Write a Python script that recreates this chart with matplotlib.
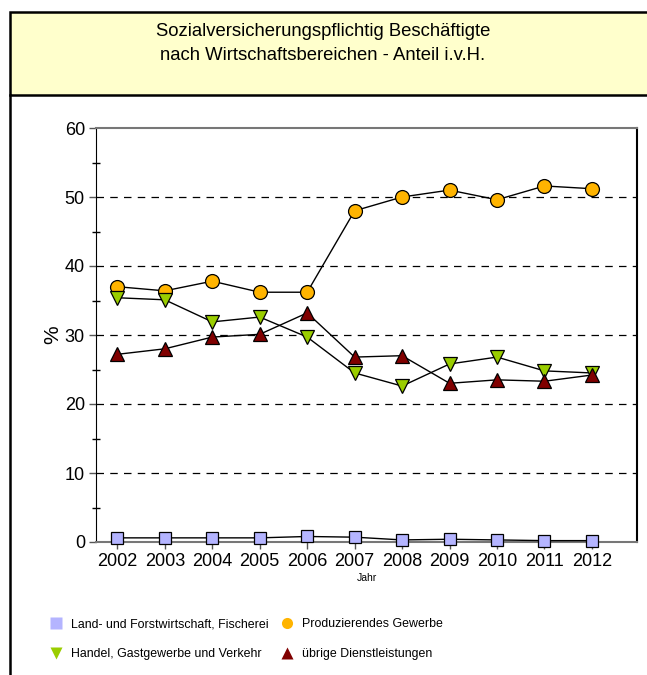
import matplotlib.pyplot as plt
from matplotlib.patches import Rectangle
from matplotlib.lines import Line2D
from matplotlib.ticker import MultipleLocator

plt.rcParams['font.family'] = ['Liberation Sans', 'DejaVu Sans']

jahre = [2002, 2003, 2004, 2005, 2006, 2007, 2008, 2009, 2010, 2011, 2012]
land = [0.6, 0.6, 0.6, 0.6, 0.8, 0.7, 0.3, 0.4, 0.3, 0.2, 0.2]
produzierend = [37.0, 36.4, 37.8, 36.2, 36.2, 48.0, 50.0, 51.0, 49.6, 51.6, 51.2]
handel = [35.4, 35.1, 31.9, 32.6, 29.7, 24.5, 22.6, 25.8, 26.8, 24.8, 24.5]
dienst = [27.2, 28.0, 29.7, 30.1, 33.2, 26.8, 27.0, 23.0, 23.5, 23.3, 24.2]

labels = ['Land- und Forstwirtschaft, Fischerei', 'Produzierendes Gewerbe',
          'Handel, Gastgewerbe und Verkehr', 'übrige Dienstleistungen']
farben = ['#B4B4FF', '#FFB400', '#9ACD00', '#800000']
marker = ['s', 'o', 'v', '^']

fig = plt.figure(figsize=(6.47, 6.75), dpi=100)

# title box
fig.patches.append(Rectangle((10 / 647, 1 - 95 / 675), 1.0, 83 / 675, transform=fig.transFigure,
                             facecolor='#FFFFCC', edgecolor='black', linewidth=1.8))
fig.lines.append(Line2D([10 / 647, 10 / 647], [0, 1 - 95 / 675], transform=fig.transFigure,
                        color='black', linewidth=1.8))
fig.text(323 / 647, 1 - 31 / 675, 'Sozialversicherungspflichtig Beschäftigte',
         ha='center', va='center', fontsize=13.3)
fig.text(323 / 647, 1 - 55 / 675, 'nach Wirtschaftsbereichen - Anteil i.v.H.',
         ha='center', va='center', fontsize=13.3)

ax = fig.add_axes([96 / 647, 1 - 542 / 675, (637 - 96) / 647, (542 - 128) / 675])
ax.set_xlim(2001.55, 2012.95)
ax.set_ylim(0, 60)

for v in [10, 20, 30, 40, 50]:
    ax.axhline(v, color='black', linestyle=(0, (6, 5)), linewidth=0.9, zorder=1)

reihen = [land, produzierend, handel, dienst]
groessen = [8.5, 10, 10, 10]
for werte, m, f, s in zip(reihen, marker, farben, groessen):
    ax.plot(jahre, werte, marker=m, markersize=s, markerfacecolor=f, color='black',
            linewidth=1.0, markeredgecolor='black', markeredgewidth=0.9, zorder=3, clip_on=False)

ax.set_xticks(jahre)
ax.set_xticklabels([str(j) for j in jahre])
ax.yaxis.set_major_locator(MultipleLocator(10))
ax.yaxis.set_minor_locator(MultipleLocator(5))
ax.tick_params(axis='both', labelsize=13, direction='out', length=5, width=1, color='#555555')
ax.tick_params(axis='y', which='minor', direction='inout', length=6, width=1)
ax.tick_params(axis='y', which='major', direction='out', length=5, pad=3)
ax.tick_params(axis='x', pad=3)

ax.spines['left'].set_color('black')
ax.spines['right'].set_color('black')
ax.spines['right'].set_linewidth(1.5)
ax.spines['top'].set_color('#777777')
ax.spines['top'].set_linewidth(1.5)
ax.spines['bottom'].set_color('#777777')
ax.spines['bottom'].set_linewidth(1.5)
ax.set_ylabel('%', fontsize=15)
ax.yaxis.set_label_coords(-0.063, 0.5)
ax.set_xlabel('Jahr', fontsize=7.5, labelpad=2)

handles = [Line2D([], [], linestyle='none', marker=m, markersize=8, markerfacecolor=f,
                  markeredgecolor='none') for m, f in zip(marker, farben)]
order = [0, 2, 1, 3]
fig.legend([handles[i] for i in order], [labels[i] for i in order], ncol=2,
           loc='upper left', bbox_to_anchor=(36 / 647, 1 - 607 / 675), frameon=False,
           fontsize=8.9, handletextpad=0.45, columnspacing=0.7, labelspacing=1.45, handlelength=1.5)

fig.savefig('out.png', dpi=100)
